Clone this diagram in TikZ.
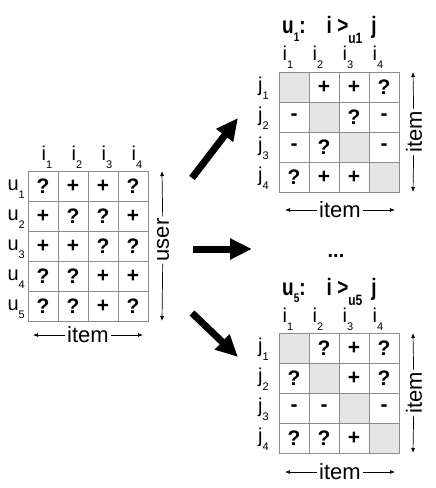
\documentclass[tikz,border=0pt]{standalone}
\usepackage{fontspec}
\setmainfont{Liberation Sans}
\usetikzlibrary{arrows.meta}

\definecolor{gridgray}{RGB}{140,140,140}
\definecolor{diaggray}{RGB}{229,229,229}

\newcommand{\lowsub}[1]{\raisebox{-8.5pt}{\fontsize{11}{11}\selectfont #1}}
\newcommand{\ttlsub}[2][10]{\raisebox{-6pt}{\fontsize{#1}{#1}\selectfont #2}}

\begin{document}
\begin{tikzpicture}[x=1pt,y=-1pt]

\tikzset{cell/.style = {draw=gridgray, line width=.6pt, minimum size=30pt, inner sep=0pt,
                        font=\bfseries\fontsize{21}{21}\selectfont},
         diag/.style = {cell, fill=diaggray},
         lab/.style  = {inner sep=0pt, font=\fontsize{20}{20}\selectfont},
         axis/.style = {inner sep=2pt, font=\fontsize{22}{22}\selectfont},
         ttl/.style  = {anchor=base west, inner sep=0pt, font=\bfseries\fontsize{19}{19}\selectfont},
         thin/.style = {line width=.7pt, -{Latex[length=5pt,width=4pt]}},
         fat/.style  = {line width=7pt, -{Triangle[length=22pt,width=20pt]}}}

\useasboundingbox (0,0) rectangle (436,488);

% user x item matrix
\node[cell] (l11) at (43,186) {?};
\node[cell] (l12) at (73,186) {+};
\node[cell] (l13) at (103,186) {+};
\node[cell] (l14) at (133,186) {?};
\node[cell] (l21) at (43,216) {+};
\node[cell] (l22) at (73,216) {?};
\node[cell] (l23) at (103,216) {?};
\node[cell] (l24) at (133,216) {+};
\node[cell] (l31) at (43,246) {+};
\node[cell] (l32) at (73,246) {+};
\node[cell] (l33) at (103,246) {?};
\node[cell] (l34) at (133,246) {?};
\node[cell] (l41) at (43,276) {?};
\node[cell] (l42) at (73,276) {?};
\node[cell] (l43) at (103,276) {+};
\node[cell] (l44) at (133,276) {+};
\node[cell] (l51) at (43,306) {?};
\node[cell] (l52) at (73,306) {?};
\node[cell] (l53) at (103,306) {+};
\node[cell] (l54) at (133,306) {?};

\node[lab, anchor=south] (li1) at (47,169) {i\lowsub{1}};
\node[lab, anchor=south] (li2) at (77,169) {i\lowsub{2}};
\node[lab, anchor=south] (li3) at (107,169) {i\lowsub{3}};
\node[lab, anchor=south] (li4) at (137,169) {i\lowsub{4}};

\node[lab, anchor=base east] (lu1) at (25,190) {u\lowsub{1}};
\node[lab, anchor=base east] (lu2) at (25,220) {u\lowsub{2}};
\node[lab, anchor=base east] (lu3) at (25,250) {u\lowsub{3}};
\node[lab, anchor=base east] (lu4) at (25,280) {u\lowsub{4}};
\node[lab, anchor=base east] (lu5) at (25,310) {u\lowsub{5}};

\node[axis, rotate=90] (luser) at (163,240) {user};
\coordinate (lut) at (162,171);
\coordinate (lub) at (162,321);
\draw[thin] (luser) -- (lut);
\draw[thin] (luser) -- (lub);

\node[axis] (litem) at (88,335) {item};
\coordinate (lil) at (33,335);
\coordinate (lir) at (143,335);
\draw[thin] (litem) -- (lil);
\draw[thin] (litem) -- (lir);

% big arrows
\coordinate (f1s) at (192,178);
\coordinate (f1e) at (238,118);
\coordinate (f2s) at (193,249);
\coordinate (f2e) at (252,249);
\coordinate (f3s) at (192,313);
\coordinate (f3e) at (238,357);
\draw[fat] (f1s) -- (f1e);
\draw[fat] (f2s) -- (f2e);
\draw[fat] (f3s) -- (f3e);

\node[anchor=base, font=\bfseries\fontsize{20}{20}\selectfont] (dots) at (336,257) {...};

% u1 pairs
\node[ttl] (ta) at (282,33.5)
  {\scalebox{1}[1.25]{u\ttlsub{1}:\hspace{21pt}i >\ttlsub[12]{\raisebox{-2pt}{u1}}\hspace{9pt}j}};

\node[diag] (a11) at (294,87) {};
\node[cell] (a12) at (324,87) {+};
\node[cell] (a13) at (354,87) {+};
\node[cell] (a14) at (384,87) {?};
\node[cell] (a21) at (294,117) {-};
\node[diag] (a22) at (324,117) {};
\node[cell] (a23) at (354,117) {?};
\node[cell] (a24) at (384,117) {-};
\node[cell] (a31) at (294,147) {-};
\node[cell] (a32) at (324,147) {?};
\node[diag] (a33) at (354,147) {};
\node[cell] (a34) at (384,147) {-};
\node[cell] (a41) at (294,177) {?};
\node[cell] (a42) at (324,177) {+};
\node[cell] (a43) at (354,177) {+};
\node[diag] (a44) at (384,177) {};

\node[lab, anchor=south] (ai1) at (288,69) {i\lowsub{1}};
\node[lab, anchor=south] (ai2) at (318,69) {i\lowsub{2}};
\node[lab, anchor=south] (ai3) at (348,69) {i\lowsub{3}};
\node[lab, anchor=south] (ai4) at (378,69) {i\lowsub{4}};

\node[lab, anchor=base east] (aj1) at (269,91) {j\lowsub{1}};
\node[lab, anchor=base east] (aj2) at (269,121) {j\lowsub{2}};
\node[lab, anchor=base east] (aj3) at (269,151) {j\lowsub{3}};
\node[lab, anchor=base east] (aj4) at (269,181) {j\lowsub{4}};

\node[axis, rotate=90] (aitemv) at (414,132) {item};
\coordinate (avt) at (413,72);
\coordinate (avb) at (413,192);
\draw[thin] (aitemv) -- (avt);
\draw[thin] (aitemv) -- (avb);

\node[axis] (aitemh) at (340,210) {item};
\coordinate (ahl) at (285,210);
\coordinate (ahr) at (395,210);
\draw[thin] (aitemh) -- (ahl);
\draw[thin] (aitemh) -- (ahr);

% u5 pairs
\node[ttl] (tb) at (282,295)
  {\scalebox{1}[1.25]{u\ttlsub{5}:\hspace{21pt}i >\ttlsub[12]{\raisebox{-2pt}{u5}}\hspace{9pt}j}};

\node[diag] (b11) at (294,348) {};
\node[cell] (b12) at (324,348) {?};
\node[cell] (b13) at (354,348) {+};
\node[cell] (b14) at (384,348) {?};
\node[cell] (b21) at (294,378) {?};
\node[diag] (b22) at (324,378) {};
\node[cell] (b23) at (354,378) {+};
\node[cell] (b24) at (384,378) {?};
\node[cell] (b31) at (294,408) {-};
\node[cell] (b32) at (324,408) {-};
\node[diag] (b33) at (354,408) {};
\node[cell] (b34) at (384,408) {-};
\node[cell] (b41) at (294,438) {?};
\node[cell] (b42) at (324,438) {?};
\node[cell] (b43) at (354,438) {+};
\node[diag] (b44) at (384,438) {};

\node[lab, anchor=south] (bi1) at (288,331) {i\lowsub{1}};
\node[lab, anchor=south] (bi2) at (318,331) {i\lowsub{2}};
\node[lab, anchor=south] (bi3) at (348,331) {i\lowsub{3}};
\node[lab, anchor=south] (bi4) at (378,331) {i\lowsub{4}};

\node[lab, anchor=base east] (bj1) at (269,352) {j\lowsub{1}};
\node[lab, anchor=base east] (bj2) at (269,382) {j\lowsub{2}};
\node[lab, anchor=base east] (bj3) at (269,412) {j\lowsub{3}};
\node[lab, anchor=base east] (bj4) at (269,442) {j\lowsub{4}};

\node[axis, rotate=90] (bitemv) at (414,393) {item};
\coordinate (bvt) at (413,333);
\coordinate (bvb) at (413,453);
\draw[thin] (bitemv) -- (bvt);
\draw[thin] (bitemv) -- (bvb);

\node[axis] (bitemh) at (340,472) {item};
\coordinate (bhl) at (285,472);
\coordinate (bhr) at (395,472);
\draw[thin] (bitemh) -- (bhl);
\draw[thin] (bitemh) -- (bhr);

\end{tikzpicture}
\end{document}
